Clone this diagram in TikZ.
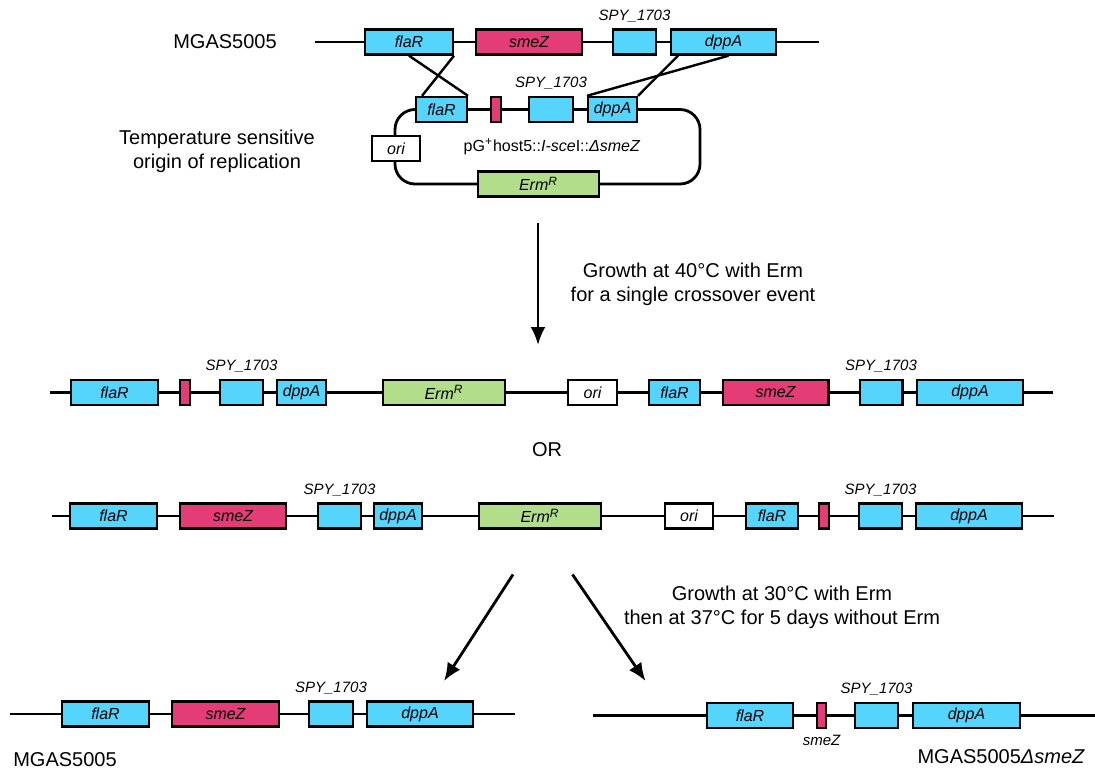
\documentclass[tikz,border=0pt]{standalone}
\usepackage{fontspec}
\setmainfont{Liberation Sans}
\usetikzlibrary{positioning,arrows.meta}
\definecolor{geneblue}{RGB}{85,212,252}
\definecolor{genepink}{RGB}{228,60,118}
\definecolor{genegreen}{RGB}{178,222,140}
\tikzstyle{backbone} = [draw, line width=1.4pt]
\tikzstyle{gene} = [draw, rectangle, line width=1.2pt, minimum height=12.5pt, inner sep=0pt, text centered, font=\fontsize{8}{9}\selectfont\itshape]
\tikzstyle{bluegene} = [gene, fill=geneblue]
\tikzstyle{pinkgene} = [gene, fill=genepink]
\tikzstyle{greengene} = [gene, fill=genegreen]
\tikzstyle{origene} = [gene, fill=white]
\tikzstyle{genelabel} = [inner sep=1pt, font=\fontsize{7.5}{9}\selectfont\itshape]
\tikzstyle{caption} = [align=center, font=\fontsize{10}{12}\selectfont]
\tikzstyle{cross} = [draw, line width=1.2pt]
\tikzstyle{line} = [draw, line width=1.4pt, -{Latex[length=9pt,width=7.5pt]}]

\begin{document}
\begin{tikzpicture}[x=0.5pt, y=-0.5pt]
    \useasboundingbox (0,0) rectangle (1095,771);

    % MGAS5005 chromosome
    \coordinate (t-start) at (315,42);
    \coordinate (t-end) at (819,42);
    \path[backbone] (t-start) -- (t-end);
    \node[caption] (t-name) at (225,42) {MGAS5005};
    \node[bluegene, minimum width=43.8pt] (t-flaR) at (409,42) {flaR};
    \node[pinkgene, minimum width=52.8pt] (t-smeZ) at (529,42) {smeZ};
    \node[bluegene, minimum width=21.3pt] (t-spy) at (634.5,42) {};
    \node[bluegene, minimum width=52.3pt] (t-dppA) at (723.5,42) {dppA};
    \node[genelabel, above=2pt of t-spy] (t-spy-lbl) {SPY\_1703};

    % plasmid
    \coordinate (p-nw) at (395,109.5);
    \coordinate (p-se) at (700,184);
    \path[backbone, rounded corners=10pt] (p-nw) rectangle (p-se);
    \node[bluegene, minimum width=25.3pt] (p-flaR) at (441.5,109.5) {flaR};
    \node[pinkgene, minimum width=4.8pt] (p-pink) at (496,109.5) {};
    \node[bluegene, minimum width=21.8pt] (p-spy) at (551,109.5) {};
    \node[bluegene, minimum width=24.3pt] (p-dppA) at (612.5,109.5) {dppA};
    \node[genelabel, above=2pt of p-spy] (p-spy-lbl) {SPY\_1703};
    \node[origene, minimum width=23.8pt] (p-ori) at (396,148.5) {ori};
    \node[greengene, minimum width=60.3pt] (p-erm) at (538.5,184) {Erm\textsuperscript{R}};
    \node[font=\fontsize{8}{9}\selectfont] (p-name) at (552,147) {pG\textsuperscript{+}host5::\textit{I-sce}I::\textit{ΔsmeZ}};
    \node[caption] (p-ori-lbl) at (217,151) {Temperature sensitive\\origin of replication};

    % crossover lines
    \path[cross] (t-flaR.south) -- (p-flaR.north east);
    \path[cross] (t-flaR.south east) -- ([xshift=3.5pt]p-flaR.north west);
    \path[cross] ([xshift=4pt]t-dppA.south west) -- (p-dppA.north east);
    \path[cross] ([xshift=2.5pt]t-dppA.south) -- (p-dppA.north west);

    % single crossover
    \coordinate (s1-start) at (538,223);
    \coordinate (s1-end) at (538,345);
    \path[line] (s1-start) -- (s1-end);
    \node[caption] (s1-text) at (693,284.5) {Growth at 40°C with Erm\\for a single crossover event};

    % integrant A
    \coordinate (a-start) at (50,392.5);
    \coordinate (a-end) at (1053,392.5);
    \path[backbone] (a-start) -- (a-end);
    \node[bluegene, minimum width=43.3pt] (a-flaR) at (114.5,392.5) {flaR};
    \node[pinkgene, minimum width=4.8pt] (a-pink) at (185,392.5) {};
    \node[bluegene, minimum width=21.3pt] (a-spy) at (241.5,392.5) {};
    \node[bluegene, minimum width=24.3pt] (a-dppA) at (301.5,392.5) {dppA};
    \node[greengene, minimum width=60.8pt] (a-erm) at (444,392.5) {Erm\textsuperscript{R}};
    \node[origene, minimum width=24.3pt] (a-ori) at (592.5,392.5) {ori};
    \node[bluegene, minimum width=25.3pt] (a-flaR2) at (674.5,392.5) {flaR};
    \node[pinkgene, minimum width=52.8pt] (a-smeZ) at (775.5,392.5) {smeZ};
    \node[bluegene, minimum width=21.3pt] (a-spy2) at (881,392.5) {};
    \node[bluegene, minimum width=52.8pt] (a-dppA2) at (970,392.5) {dppA};
    \node[genelabel, above=2pt of a-spy] (a-spy-lbl) {SPY\_1703};
    \node[genelabel, above=2pt of a-spy2] (a-spy2-lbl) {SPY\_1703};

    \node[caption] (or) at (547,450) {OR};

    % integrant B
    \coordinate (b-start) at (52,516);
    \coordinate (b-end) at (1054,516);
    \path[backbone] (b-start) -- (b-end);
    \node[bluegene, minimum width=43.3pt] (b-flaR) at (113.5,516) {flaR};
    \node[pinkgene, minimum width=52.8pt] (b-smeZ) at (233,516) {smeZ};
    \node[bluegene, minimum width=21.3pt] (b-spy) at (339.5,516) {};
    \node[bluegene, minimum width=23.8pt] (b-dppA) at (398,516) {dppA};
    \node[greengene, minimum width=60.8pt] (b-erm) at (540,516) {Erm\textsuperscript{R}};
    \node[origene, minimum width=23.8pt] (b-ori) at (689,516) {ori};
    \node[bluegene, minimum width=25.8pt] (b-flaR2) at (772,516) {flaR};
    \node[pinkgene, minimum width=4.8pt] (b-pink) at (824,516) {};
    \node[bluegene, minimum width=21.3pt] (b-spy2) at (880.5,516) {};
    \node[bluegene, minimum width=52.8pt] (b-dppA2) at (969,516) {dppA};
    \node[genelabel, above=2pt of b-spy] (b-spy-lbl) {SPY\_1703};
    \node[genelabel, above=2pt of b-spy2] (b-spy2-lbl) {SPY\_1703};

    % second crossover
    \coordinate (s2-start) at (513,574.5);
    \coordinate (s2-left) at (444,681);
    \coordinate (s2-mid) at (572.5,574.5);
    \coordinate (s2-right) at (645.5,681);
    \path[line] (s2-start) -- (s2-left);
    \path[line] (s2-mid) -- (s2-right);
    \node[caption] (s2-text) at (782,607) {Growth at 30°C with Erm\\then at 37°C for 5 days without Erm};

    % wild type
    \coordinate (c-start) at (10,714);
    \coordinate (c-end) at (515,714);
    \path[backbone] (c-start) -- (c-end);
    \node[bluegene, minimum width=43.3pt] (c-flaR) at (105.5,714) {flaR};
    \node[pinkgene, minimum width=53.3pt] (c-smeZ) at (225.5,714) {smeZ};
    \node[bluegene, minimum width=21.8pt] (c-spy) at (331,714) {};
    \node[bluegene, minimum width=52.8pt] (c-dppA) at (420,714) {dppA};
    \node[genelabel, above=2pt of c-spy] (c-spy-lbl) {SPY\_1703};
    \node[caption] (c-name) at (65,760) {MGAS5005};

    % deletion mutant
    \coordinate (d-start) at (593,715.5);
    \coordinate (d-end) at (1095,715.5);
    \path[backbone] (d-start) -- (d-end);
    \node[bluegene, minimum width=42.8pt] (d-flaR) at (750,715.5) {flaR};
    \node[pinkgene, minimum width=4.3pt] (d-pink) at (821.5,715.5) {};
    \node[bluegene, minimum width=21.3pt] (d-spy) at (876.5,715.5) {};
    \node[bluegene, minimum width=53.3pt] (d-dppA) at (966.5,715.5) {dppA};
    \node[genelabel, above=2pt of d-spy] (d-spy-lbl) {SPY\_1703};
    \node[genelabel, below=2pt of d-pink] (d-pink-lbl) {smeZ};
    \node[caption, anchor=east] (d-name) at (1092,757) {MGAS5005\textit{ΔsmeZ}};
\end{tikzpicture}
\end{document}
